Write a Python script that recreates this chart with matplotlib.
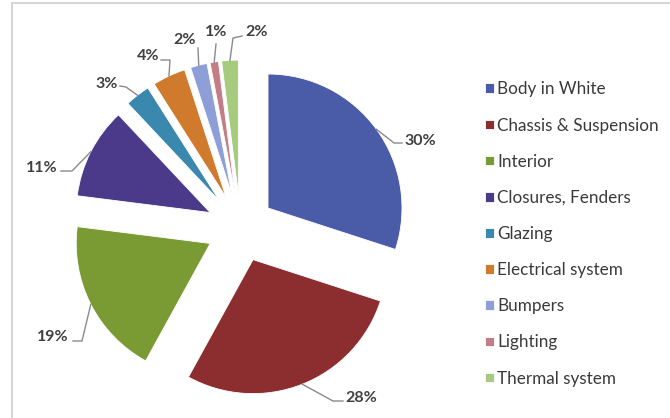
import matplotlib
matplotlib.use("Agg")
import matplotlib.pyplot as plt
from matplotlib.patches import Rectangle
import numpy as np

# data
categories = ["Body in White", "Chassis & Suspension", "Interior", "Closures, Fenders",
              "Glazing", "Electrical system", "Bumpers", "Lighting", "Thermal system"]
shares = [30, 28, 19, 11, 3, 4, 2, 1, 2]
colors = ["#4A5CA8", "#8C2D30", "#7A9A34", "#4B3A8A", "#3A88AE",
          "#D07A2E", "#8E9FD8", "#C27D86", "#A6CB7E"]

W, H = 670, 418


def py(y):
    # image y (top-down) -> axes y (bottom-up)
    return H - y


fig = plt.figure(figsize=(W / 100, H / 100), dpi=100)
ax = fig.add_axes([0, 0, 1, 1])
plt.rcParams['font.family'] = ['Lato', 'DejaVu Sans']

# chart area frame
ax.add_patch(Rectangle((12, py(H + 40)), W + 40, H + 37, facecolor="white",
                       edgecolor="#d6d6d6", linewidth=1.5, zorder=0))

radius = 134
center = (240.5, py(228))
# explode is in data units here (pixels), since the axes map 1:1 to pixels
wedges, _ = ax.pie(shares, explode=[34] * len(shares), colors=colors,
                   startangle=90, counterclock=False, center=center, radius=radius,
                   wedgeprops=dict(edgecolor="white", linewidth=0.6))

ax.set_xlim(0, W)
ax.set_ylim(0, H)
ax.set_aspect("equal")
ax.axis("off")

# label layout: text position (image coords), alignment, leader elbow points
layout = [
    ((404, 141), "left", [(394, 143), (402, 143)]),
    ((345, 398), "left", [(333, 401), (343, 401)]),
    ((69, 337), "right", [(82, 341), (73, 341)]),
    ((58, 168), "right", [(72, 171), (61, 171)]),
    ((118, 84), "right", [(126, 87), (120, 86)]),
    ((159, 56), "right", [(170, 60), (161, 60)]),
    ((185, 40), "center", [(198, 48)]),
    ((216, 32), "center", [(216, 44)]),
    ((245, 32), "left", [(233, 38), (242, 36)]),
]

for w, pct, (tpos, ha, elbows) in zip(wedges, shares, layout):
    mid = np.deg2rad((w.theta1 + w.theta2) / 2)
    ax0 = w.center[0] + w.r * np.cos(mid)
    ay0 = w.center[1] + w.r * np.sin(mid)
    xs = [ax0] + [e[0] for e in elbows]
    ys = [ay0] + [py(e[1]) for e in elbows]
    ax.plot(xs, ys, color="#8a8a8a", linewidth=1.0, zorder=3)
    ax.text(tpos[0], py(tpos[1]), f"{pct}%", ha=ha, va="center",
            fontsize=11.5, color="#404040", fontweight="bold")

leg = fig.legend(wedges, categories, loc="upper left",
                 bbox_to_anchor=(470 / W, 1 - 66 / H), frameon=False,
                 fontsize=12.3, labelspacing=1.18, handlelength=0.5,
                 handleheight=0.5, handletextpad=0.2)
for t in leg.get_texts():
    t.set_color("#3a3a3a")

plt.savefig("out.png", dpi=100)
plt.close()
